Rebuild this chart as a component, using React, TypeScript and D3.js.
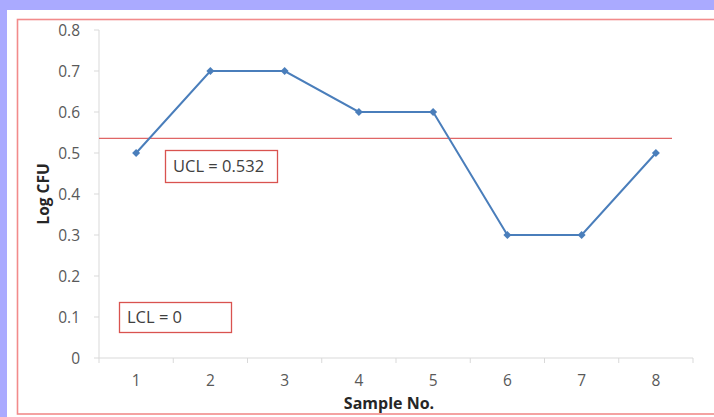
import React from "react";
import * as d3 from "d3";

const samples = ["1", "2", "3", "4", "5", "6", "7", "8"];
const logCfu = [0.5, 0.7, 0.7, 0.6, 0.6, 0.3, 0.3, 0.5];
const yTicks = [0, 0.1, 0.2, 0.3, 0.4, 0.5, 0.6, 0.7, 0.8];
const ucl = 0.532;
const uclLabel = "UCL = 0.532";
const lclLabel = "LCL = 0";

const W = 714;
const H = 417;

export default function App() {
  const x = d3.scaleBand<string>().domain(samples).range([99, 693]).padding(0);
  const y = d3.scaleLinear().domain([0, 0.8]).range([358, 30]);
  const cx = (s: string) => (x(s) as number) + x.bandwidth() / 2;
  const line = d3
    .line<number>()
    .x((_, i) => cx(samples[i]))
    .y((d) => y(d));
  const font = "'Open Sans', 'Liberation Sans', sans-serif";
  const boundaries = [99, ...samples.map((s) => (x(s) as number) + x.bandwidth())];
  const m = 4;
  const diamond = `M0,${-m}L${m},0L0,${m}L${-m},0Z`;

  return (
    <div style={{ position: "absolute", left: 0, top: 0 }}>
      <svg width={W} height={H} style={{ display: "block" }} fontFamily={font}>
        <rect x={0} y={0} width={W} height={H} fill="#AAAAFF" />
        <rect x={7} y={10} width={W - 7} height={H - 10} fill="#FFFFFF" />
        <rect x={17.5} y={19.5} width={W} height={394.5} fill="none" stroke="#F28B8B" strokeWidth={1.6} />

        {/* y axis */}
        <line x1={99} x2={99} y1={y(0.8)} y2={y(0)} stroke="#D9D9D9" strokeWidth={1} />
        {yTicks.map((t) => (
          <g key={t}>
            <line x1={94} x2={99} y1={y(t)} y2={y(t)} stroke="#D9D9D9" />
            <text x={80} y={y(t)} dy="0.36em" textAnchor="end" fontSize={15.5} fill="#595959">
              {d3.format("~g")(t)}
            </text>
          </g>
        ))}

        {/* x axis */}
        <line x1={99} x2={693} y1={y(0)} y2={y(0)} stroke="#D9D9D9" strokeWidth={1.2} />
        {boundaries.map((b, i) => (
          <line key={i} x1={b} x2={b} y1={y(0)} y2={y(0) + 5} stroke="#D9D9D9" />
        ))}
        {samples.map((s) => (
          <text key={s} x={cx(s)} y={386} textAnchor="middle" fontSize={15.5} fill="#595959">
            {s}
          </text>
        ))}

        {/* UCL line */}
        <line x1={99} x2={672} y1={y(ucl) - 1.5} y2={y(ucl) - 1.5} stroke="#E06666" strokeWidth={1.2} />

        {/* data line */}
        <path d={line(logCfu) as string} fill="none" stroke="#4A7EBB" strokeWidth={2} />
        {logCfu.map((v, i) => (
          <path key={i} d={diamond} transform={`translate(${cx(samples[i])},${y(v)})`} fill="#4A7EBB" />
        ))}

        {/* labels boxes */}
        <rect x={165.5} y={150.5} width={112} height={32} fill="#FFFFFF" stroke="#D9534F" strokeWidth={1.3} />
        <text x={173} y={166.5} dy="0.36em" fontSize={16.5} fill="#404040">
          {uclLabel}
        </text>
        <rect x={119.5} y={302.5} width={112} height={30} fill="#FFFFFF" stroke="#D9534F" strokeWidth={1.3} />
        <text x={127} y={317.5} dy="0.36em" fontSize={16.5} fill="#404040">
          {lclLabel}
        </text>

        {/* axis titles */}
        <text
          transform={`translate(43,194) rotate(-90)`}
          textAnchor="middle"
          dy="0.36em"
          fontSize={15.5}
          fontWeight="bold"
          fill="#262626"
        >
          Log CFU
        </text>
        <text x={389} y={403} textAnchor="middle" dy="0.36em" fontSize={16} fontWeight="bold" fill="#262626">
          Sample No.
        </text>
      </svg>
    </div>
  );
}
